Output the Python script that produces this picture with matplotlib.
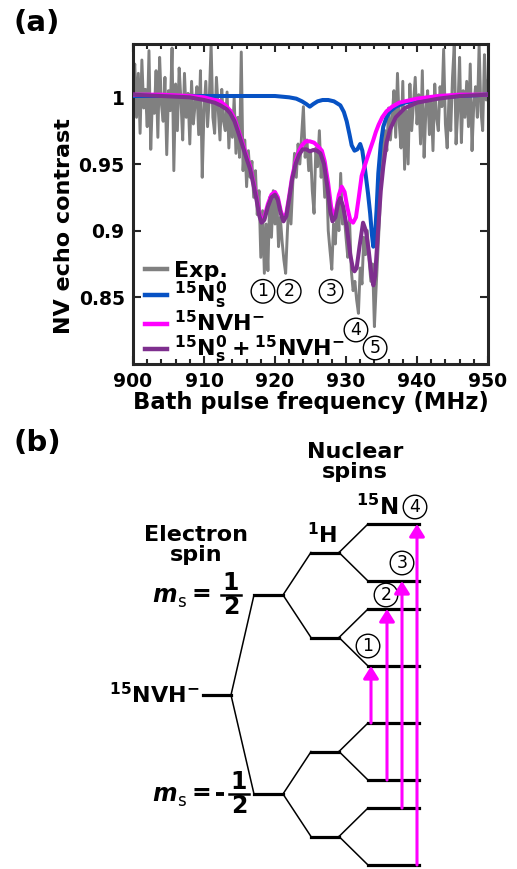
"""
Echo spectrum of 15NVH- with fits (a) and level scheme (b).
"""
import numpy as np
import matplotlib
matplotlib.use('Agg')
import matplotlib.pyplot as plt
from matplotlib.lines import Line2D

plt.rcParams['font.family'] = 'DejaVu Sans'
plt.rcParams['font.weight'] = 'bold'
plt.rcParams['axes.labelweight'] = 'bold'
plt.rcParams['mathtext.fontset'] = 'dejavusans'
plt.rcParams['mathtext.default'] = 'bf'

# --- panel (a) data -------------------------------------------------------
FREQ_START, FREQ_STEP = 900.0, 0.25
exp_contrast = [
    # 900.00 - 904.75
    1.012, 1.025, 0.985, 1.018, 0.973, 1.028, 0.992, 1.006, 0.978, 1.035,
    0.961, 1.002, 0.988, 1.020, 0.970, 1.030, 0.995, 0.982, 1.015, 0.957,
    # 905.00 - 909.75
    1.005, 0.990, 1.037, 0.945, 1.010, 0.975, 1.022, 0.998, 0.968, 1.018,
    0.985, 1.003, 0.965, 1.012, 0.980, 0.995, 1.008, 0.972, 1.020, 0.940,
    # 910.00 - 914.75
    0.990, 1.012, 0.978, 1.000, 1.040, 0.985, 0.973, 1.015, 0.992, 0.968,
    1.006, 0.982, 0.975, 1.004, 0.962, 0.990, 0.970, 1.000, 0.958, 0.985,
    # 915.00 - 919.75
    0.955, 1.034, 0.945, 0.968, 0.933, 0.960, 0.940, 0.952, 0.925, 0.945,
    0.912, 0.930, 0.880, 0.915, 0.868, 0.905, 0.870, 0.925, 0.895, 0.930,
    # 920.00 - 924.75
    0.905, 0.925, 0.888, 0.910, 0.892, 0.878, 0.868, 0.900, 0.926, 0.905,
    0.935, 0.958, 0.940, 0.965, 0.950, 0.972, 0.993, 0.955, 0.968, 0.945,
    # 925.00 - 929.75
    0.960, 0.930, 0.913, 0.962, 0.948, 0.975, 0.940, 0.955, 0.925, 0.945,
    0.900, 0.885, 0.871, 0.905, 0.890, 0.918, 0.900, 0.943, 0.905, 0.912,
    # 930.00 - 934.75
    0.895, 0.880, 0.908, 0.870, 0.855, 0.862, 0.848, 0.838, 0.872, 0.860,
    0.895, 0.882, 0.900, 0.878, 0.862, 0.875, 0.828, 0.858, 0.885, 0.912,
    # 935.00 - 939.75
    0.965, 0.952, 0.975, 0.960, 0.992, 0.968, 0.985, 1.005, 0.970, 1.018,
    0.980, 0.962, 1.012, 0.946, 0.990, 0.950, 1.010, 0.975, 0.995, 1.015,
    # 940.00 - 944.75
    0.980, 1.002, 0.965, 1.020, 0.955, 0.990, 1.005, 0.972, 0.998, 0.960,
    1.010, 0.985, 0.975, 1.008, 0.993, 1.036, 0.980, 0.962, 1.000, 0.975,
    # 945.00 - 950.00
    1.015, 1.040, 0.965, 0.990, 1.030, 0.966, 1.005, 0.985, 1.012, 0.978,
    1.025, 0.960, 0.995, 1.008, 0.985, 1.040, 0.990, 0.975, 1.032, 0.998,
    1.012,
]

n0_freq = [900, 905, 910, 915, 920, 922, 923, 923.8, 924.4, 924.9, 925.4,
           926, 926.7, 927.5, 928.3, 929.2, 929.7, 930.1, 930.5, 930.8,
           931.2, 931.6, 932.0, 932.3, 932.7, 933.1, 933.4, 933.65, 933.85,
           934.05, 934.3, 934.55, 934.9, 935.25, 935.7, 936.2, 937, 938.3,
           940, 943, 946, 950]
n0_fit = [1.001, 1.001, 1.001, 1.001, 1.001, 1.000, 0.999, 0.997, 0.995,
          0.993, 0.995, 0.997, 0.998, 0.998, 0.997, 0.994, 0.989, 0.982,
          0.972, 0.964, 0.960, 0.961, 0.965, 0.960, 0.945, 0.928, 0.913,
          0.897, 0.888, 0.893, 0.915, 0.943, 0.965, 0.978, 0.985, 0.9895,
          0.993, 0.996, 0.998, 1.000, 1.001, 1.002]

nvh_freq = [900, 904, 908, 910, 911.5, 912.3, 913.2, 913.7, 914.3, 914.8,
            915.4, 916.0, 916.5, 916.9, 917.4, 917.8, 918.1, 918.5, 919.0,
            919.5, 920.0, 920.4, 920.8, 921.2, 921.6, 922.0, 922.4, 922.9,
            923.4, 923.8, 924.3, 924.9, 925.5, 926.1, 926.6, 927.0, 927.5,
            927.9, 928.2, 928.6, 929.0, 929.4, 929.8, 930.2, 930.6, 931.0,
            931.4, 931.8, 932.2, 932.6, 932.9, 933.4, 933.85, 934.2, 934.6,
            935.1, 935.7, 936.5, 937.5, 938.3, 940, 943, 946, 950]
nvh_fit = [1.002, 1.002, 1.001, 1.000, 0.998, 0.997, 0.993, 0.990, 0.984,
           0.976, 0.966, 0.956, 0.948, 0.938, 0.925, 0.913, 0.907, 0.910,
           0.920, 0.927, 0.929, 0.925, 0.915, 0.909, 0.913, 0.926, 0.940,
           0.952, 0.960, 0.964, 0.967, 0.967, 0.966, 0.963, 0.960, 0.952,
           0.935, 0.918, 0.912, 0.915, 0.927, 0.933, 0.929, 0.917, 0.908,
           0.906, 0.910, 0.925, 0.941, 0.948, 0.953, 0.961, 0.968, 0.974,
           0.9795, 0.985, 0.9895, 0.993, 0.996, 0.997, 0.999, 1.001, 1.002,
           1.002]

sum_freq = [900, 904, 908, 910, 911.5, 912.3, 913.2, 913.7, 914.3, 914.8,
            915.4, 916.0, 916.5, 916.9, 917.4, 917.8, 918.1, 918.5, 919.0,
            919.5, 920.0, 920.4, 920.8, 921.2, 921.6, 922.0, 922.4, 922.9,
            923.4, 923.9, 924.4, 924.9, 925.4, 925.9, 926.4, 926.9, 927.4,
            927.8, 928.1, 928.5, 928.9, 929.2, 929.6, 930.1, 930.6, 931.0,
            931.2, 931.5, 931.9, 932.4, 932.8, 933.2, 933.6, 933.85, 934.1,
            934.55, 934.9, 935.25, 935.7, 936.2, 937, 938.3, 940, 943, 946,
            950]
sum_fit = [1.002, 1.001, 1.000, 0.998, 0.996, 0.994, 0.991, 0.988, 0.982,
           0.974, 0.964, 0.954, 0.946, 0.936, 0.923, 0.911, 0.906, 0.908,
           0.918, 0.925, 0.927, 0.923, 0.913, 0.907, 0.911, 0.924, 0.938,
           0.950, 0.957, 0.961, 0.961, 0.9595, 0.9605, 0.960, 0.958, 0.950,
           0.932, 0.914, 0.907, 0.910, 0.921, 0.9245, 0.918, 0.903, 0.882,
           0.871, 0.8695, 0.872, 0.888, 0.906, 0.900, 0.885, 0.866, 0.859,
           0.866, 0.903, 0.930, 0.948, 0.966, 0.976, 0.985, 0.992, 0.996,
           0.999, 1.001, 1.002]

peak_labels = ['1', '2', '3', '4', '5']
peak_freq = [918.3, 922.0, 927.9, 931.4, 934.1]
peak_level = [0.8545, 0.8545, 0.8545, 0.8255, 0.812]

legend_labels = ['Exp.', r'$^{15}N_{\mathregular{s}}^{0}$', r'$^{15}NVH^{-}$',
                 r'$^{15}N_{\mathregular{s}}^{0}+^{15}NVH^{-}$']
colors = ['#808080', '#0752c4', '#ff00ff', '#7e2f8e']

# --- panel (b) level scheme ------------------------------------------------
E_NVH = 695
E_ELECTRON = [595, 794]          # ms = +1/2, -1/2
SPLIT_H = 42.5
SPLIT_N = 28.5
transitions = [(4, 3), (5, 2), (6, 1), (7, 0)]   # (from, to) in 15N levels
transition_labels = ['1', '2', '3', '4']

fig = plt.figure(figsize=(5.17, 8.69), dpi=100)

# ---------------- (a) ----------------
ax = fig.add_axes([133 / 517, 1 - 364 / 869, 355 / 517, 320 / 869])
freq = FREQ_START + FREQ_STEP * np.arange(len(exp_contrast))
ax.plot(freq, exp_contrast, color=colors[0], lw=2.1, zorder=2)
ax.plot(n0_freq, n0_fit, color=colors[1], lw=2.9, zorder=3,
        solid_joinstyle='round')
ax.plot(nvh_freq, nvh_fit, color=colors[2], lw=2.9, zorder=4,
        solid_joinstyle='round')
ax.plot(sum_freq, sum_fit, color=colors[3], lw=2.9, zorder=5,
        solid_joinstyle='round')

for lab, f, v in zip(peak_labels, peak_freq, peak_level):
    ax.text(f, v, lab, ha='center', va='center', fontsize=12.5,
            fontweight='normal', zorder=6,
            bbox=dict(boxstyle='circle,pad=0.16', fc='none', ec='black',
                      lw=1.0))

ax.set_xlim(900, 950)
ax.set_ylim(0.80, 1.04)
ax.set_xticks(range(900, 951, 10))
ax.set_xticks(np.arange(900, 951, 2), minor=True)
ax.set_yticks([0.85, 0.9, 0.95, 1.0])
ax.set_yticklabels(['0.85', '0.9', '0.95', '1'])
ax.tick_params(direction='in', which='both', top=True, right=True,
               labelsize=13.5, width=1.5, color='#262626')
ax.tick_params(which='major', length=6)
ax.tick_params(which='minor', length=3.5)
ax.tick_params(axis='x', pad=6)
ax.tick_params(axis='y', pad=6)
for sp in ax.spines.values():
    sp.set_linewidth(2.2)
    sp.set_color('#262626')
ax.set_xlabel('Bath pulse frequency (MHz)', fontsize=16.3, labelpad=0)
ax.set_ylabel('NV echo contrast', fontsize=16)
ax.yaxis.set_label_coords(-0.166, 0.431)

handles = [Line2D([], [], color=c, lw=3.2) for c in colors]
ax.legend(handles, legend_labels, loc='lower left', frameon=False,
          fontsize=16, handlelength=1.0, handletextpad=0.3,
          labelspacing=-0.05, borderaxespad=0.0, borderpad=0.15,
          bbox_to_anchor=(0.025, -0.015))

fig.text(37 / 517, 1 - 23 / 869, '(a)', fontsize=21, ha='center',
         va='center')
fig.text(37 / 517, 1 - 443 / 869, '(b)', fontsize=21, ha='center',
         va='center')

# ---------------- (b) ----------------
bx = fig.add_axes([0, 0, 1, 449 / 869])
bx.set_xlim(0, 517)
bx.set_ylim(869, 420)
bx.axis('off')

LEV_W, CON_W = 2.3, 1.1
col_nvh = (203, 231)
col_e = (254, 283)
col_h = (311, 339)
col_n = (368, 419)

bx.plot(col_nvh, [E_NVH, E_NVH], color='k', lw=LEV_W)
h_levels, n_levels = [], []
for e in E_ELECTRON:
    bx.plot(col_e, [e, e], color='k', lw=LEV_W)
    bx.plot([col_nvh[1], col_e[0]], [E_NVH, e], color='k', lw=CON_W)
    for h in (e - SPLIT_H, e + SPLIT_H):
        h_levels.append(h)
        bx.plot(col_h, [h, h], color='k', lw=LEV_W)
        bx.plot([col_e[1], col_h[0]], [e, h], color='k', lw=CON_W)
        for n in (h - SPLIT_N, h + SPLIT_N):
            n_levels.append(n)
            bx.plot(col_n, [n, n], color='k', lw=LEV_W)
            bx.plot([col_h[1], col_n[0]], [h, n], color='k', lw=CON_W)

arrow_x = [371, 387, 402, 417]
label_pos = [(368, 646), (386, 595), (402, 563), (415, 507)]
for (lo, hi), x, lab, (lx, ly) in zip(transitions, arrow_x,
                                      transition_labels, label_pos):
    bx.annotate('', xy=(x, n_levels[hi]), xytext=(x, n_levels[lo]),
                arrowprops=dict(arrowstyle='-|>,head_length=0.32,head_width=0.2',
                                color='#ff00ff', lw=2.2, mutation_scale=23,
                                shrinkA=0, shrinkB=0), zorder=4)
    bx.text(lx, ly, lab, ha='center', va='center', fontsize=12.5,
            fontweight='normal',
            bbox=dict(boxstyle='circle,pad=0.16', fc='white', ec='black',
                      lw=1.0))

bx.text(355, 462, 'Nuclear\nspins', ha='center', va='center', fontsize=16,
        linespacing=1.05)
bx.text(196, 545, 'Electron\nspin', ha='center', va='center', fontsize=16,
        linespacing=1.05)
bx.text(322, 535, r'$^{1}$H', ha='center', va='center', fontsize=16)
bx.text(377, 507, r'$^{15}$N', ha='center', va='center', fontsize=16.5)
bx.text(199, 695, r'$^{15}$NVH$^{\mathbf{-}}$', ha='right', va='center',
        fontsize=16)

for e, sign, fx in zip(E_ELECTRON, ['', '-'], [231, 239]):
    bx.text(165, e, 'm', ha='center', va='center', fontsize=17,
            style='italic')
    bx.text(181, e + 7, 's', ha='center', va='center', fontsize=12,
            fontweight='normal')
    bx.text(201, e - 1, '=', ha='center', va='center', fontsize=17)
    if sign:
        bx.plot([216, 224], [e, e], color='k', lw=2.8, solid_capstyle='butt')
    bx.text(fx, e - 12, '1', ha='center', va='center', fontsize=17)
    bx.text(fx, e + 12, '2', ha='center', va='center', fontsize=17)
    bx.plot([fx - 10, fx + 10], [e, e], color='k', lw=1.8)

fig.savefig('out.png', dpi=100)
